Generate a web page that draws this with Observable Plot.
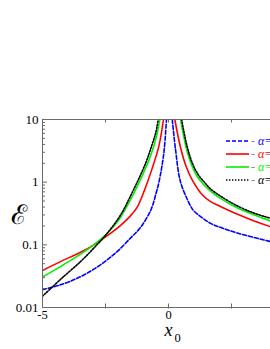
<!DOCTYPE html>
<html><head><meta charset="utf-8">
<script src="https://cdn.jsdelivr.net/npm/d3@7"></script>
<script src="https://cdn.jsdelivr.net/npm/@observablehq/plot@0.6"></script>
<style>
body{margin:0;background:#fff;}
#wrap{position:relative;width:270px;height:349px;overflow:hidden;}
#wrap > svg{max-width:none !important;position:absolute;left:0;top:0;}
#wrap svg text{font-family:"Liberation Serif","Times New Roman",Times,serif !important;}
.lg{position:absolute;left:226px;height:12px;display:flex;align-items:center;font-family:"Liberation Serif","Times New Roman",serif;font-size:12px;white-space:nowrap;}
.lg svg{display:block;}
.lg .d{color:#888;margin:0 3px 0 2px;}
.lg i{font-style:italic;}
</style></head><body><div id="wrap"></div>
<script>
// x0 values and E values for each curve (null separates left and right branches)
const xBlue  = [-5,-4.29,-3.49,-2.7,-2.04,-1.51,-1.11,-0.7,-0.5,-0.38,-0.19,-0.08,null,0.15,0.28,0.48,0.87,1.0,1.67,2.06,2.72,4.05,5];
const eBlue  = [0.0193,0.023,0.031,0.048,0.078,0.128,0.19,0.36,0.65,1.0,2.8,10,null,10,3.3,1.0,0.42,0.35,0.22,0.19,0.155,0.113,0.095];
const xRed   = [-5,-4.29,-3.49,-2.96,-2.43,-1.9,-1.51,-1.24,-0.95,-0.66,-0.38,-0.2,null,0.25,0.48,0.7,0.95,1.34,1.67,2.06,2.72,3.4,4.05,5];
const eRed   = [0.039,0.054,0.076,0.1,0.14,0.205,0.29,0.40,0.75,1.6,3.8,10,null,10,3.55,1.78,1.07,0.63,0.49,0.41,0.31,0.24,0.195,0.15];
const xGreen = [-5,-4.29,-3.49,-3.1,-2.43,-1.97,-1.38,-0.78,-0.58,-0.45,-0.345,null,0.48,0.7,0.92,1.14,1.4,1.67,2.06,2.72,3.4,4.05,5];
const eGreen = [0.0307,0.045,0.071,0.091,0.153,0.25,0.66,2.23,3.8,6.0,10,null,10,3.6,1.86,1.23,0.91,0.72,0.55,0.39,0.3,0.24,0.186];
const xBlack = [-5,-4.29,-3.49,-2.96,-2.43,-1.9,-1.51,-0.91,-0.65,-0.5,-0.41,null,0.52,0.74,0.96,1.2,1.45,1.67,2.06,2.72,3.4,4.05,5];
const eBlack = [0.0151,0.028,0.054,0.089,0.153,0.30,0.6,2.0,4.0,6.3,10,null,10,3.7,1.95,1.28,0.97,0.78,0.6,0.42,0.32,0.265,0.205];

const legendLabels = ["α=", "α=", "α=", "α="];
const seriesColors = ["#0000ff", "#ff0000", "#00f000", "#000000"];
const seriesDash   = ["4,2", null, null, "1.4,1.6"];

const xDomain = [-5, 5];
const yDomain = [0.01, 10];
const xTickLabelsAt = [-5, 0];
const xTickLabels = ["-5", "0"];
const xMinorTicks = [-2.5, 0, 2.5];
const yMajor = [0.01, 0.1, 1, 10];
const yMajorLabels = ["0.01", "0.1", "1", "10"];
const yMinor = [];
for (const dec of [0.01, 0.1, 1]) for (let k = 2; k <= 9; k++) yMinor.push(+(dec * k).toPrecision(3));

const toRows = (xs, es) => xs.map((x, i) => ({x: x == null ? NaN : x, e: es[i] == null ? NaN : es[i]}));
const series = [toRows(xBlue, eBlue), toRows(xRed, eRed), toRows(xGreen, eGreen), toRows(xBlack, eBlack)];

const W = 310, H = 349, mL = 42, mR = 16, mT = 119, mB = 42;
const pxPerX = (W - mL - mR) / (xDomain[1] - xDomain[0]);
const pxPerDec = (H - mT - mB) / 3;
const inX = px => px / pxPerX;
const inDec = px => Math.pow(10, px / pxPerDec);

const gray = "#6a6a6a";
const serif = "'Liberation Serif', 'Times New Roman', serif";

const chart = Plot.plot({
  width: W, height: H,
  marginLeft: mL, marginRight: mR, marginTop: mT, marginBottom: mB,
  x: {domain: xDomain},
  y: {type: "log", domain: yDomain},
  style: `font-family: ${serif}; background: transparent; max-width: none; overflow: visible;`,
  marks: [
    ...series.map((rows, i) => Plot.line(rows, {
      x: "x", y: "e", stroke: seriesColors[i], strokeWidth: 1.6,
      strokeDasharray: seriesDash[i], curve: "catmull-rom", clip: true
    })),
    Plot.frame({stroke: gray, strokeWidth: 1}),
    Plot.ruleY(yMinor, {y: d => d, x1: xDomain[0], x2: xDomain[0] + inX(3), stroke: gray}),
    Plot.ruleY(yMajor, {y: d => d, x1: xDomain[0], x2: xDomain[0] + inX(5), stroke: gray}),
    Plot.ruleX(xMinorTicks, {x: d => d, y1: yDomain[0] / inDec(1.5), y2: yDomain[0] * inDec(3.5), stroke: gray}),
    Plot.ruleX(xMinorTicks, {x: d => d, y1: yDomain[1], y2: yDomain[1] / inDec(3.5), stroke: gray}),
    Plot.axisY({ticks: yMajor, tickSize: 0, tickPadding: 4, fontSize: 13,
      tickFormat: d => yMajorLabels[yMajor.indexOf(d)], label: null}),
    Plot.axisX({ticks: xTickLabelsAt, tickSize: 0, tickPadding: 3, fontSize: 12.5,
      tickFormat: d => xTickLabels[xTickLabelsAt.indexOf(d)], label: null}),
    Plot.text(["ℰ"], {frameAnchor: "left", dx: -32, dy: 2, fontSize: 27, fill: "#000"}),
    Plot.text(["x"], {frameAnchor: "bottom", dx: 0, dy: 28, fontSize: 18, fontStyle: "italic", fill: "#000"}),
    Plot.text(["0"], {frameAnchor: "bottom", dx: 9, dy: 34, fontSize: 12.5, fill: "#000"})
  ]
});
const wrap = document.getElementById("wrap");
wrap.appendChild(chart);

const legendY = [141, 154, 167, 180];
legendLabels.forEach((lab, i) => {
  const row = document.createElement("div");
  row.className = "lg";
  row.style.top = (legendY[i] - 6) + "px";
  const sw = d3.create("svg").attr("width", 23).attr("height", 6);
  sw.append("line").attr("x1", 0).attr("x2", 23).attr("y1", 3).attr("y2", 3)
    .attr("stroke", seriesColors[i]).attr("stroke-width", 1.6)
    .attr("stroke-dasharray", seriesDash[i]);
  row.appendChild(sw.node());
  const d = document.createElement("span"); d.className = "d"; d.textContent = "-";
  row.appendChild(d);
  const t = document.createElement("i"); t.textContent = lab; t.style.color = seriesColors[i];
  row.appendChild(t);
  wrap.appendChild(row);
});
</script></body></html>
